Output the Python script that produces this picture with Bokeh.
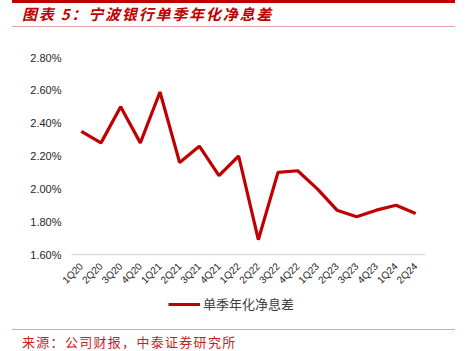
from math import pi
from bokeh.plotting import figure
from bokeh.models import (Range1d, FixedTicker, PrintfTickFormatter, Legend, LegendItem, Div)
from bokeh.layouts import column
from bokeh.embed import file_html
from bokeh.resources import INLINE

quarters = ["1Q20", "2Q20", "3Q20", "4Q20", "1Q21", "2Q21", "3Q21", "4Q21", "1Q22",
            "2Q22", "3Q22", "4Q22", "1Q23", "2Q23", "3Q23", "4Q23", "1Q24", "2Q24"]
nim = [2.35, 2.28, 2.50, 2.28, 2.59, 2.16, 2.26, 2.08, 2.20,
       1.69, 2.10, 2.11, 2.00, 1.87, 1.83, 1.87, 1.90, 1.85]
y_ticks = [1.6, 1.8, 2.0, 2.2, 2.4, 2.6, 2.8]
series_name = "单季年化净息差"
title_text = "图表 5：宁波银行单季年化净息差"
source_text = "来源：公司财报，中泰证券研究所"

W = 466
TOP_H, FIG_H, LEG_H, BOT_H = 30, 262, 36, 23
LINE_COLOR = "#C00000"

p = figure(width=W, height=FIG_H, x_range=quarters, y_range=Range1d(1.6, 2.8),
           output_backend="svg", toolbar_location=None,
           min_border_left=71, min_border_right=41,
           min_border_top=27, min_border_bottom=34)
p.x_range.range_padding = 0
p.outline_line_color = None
p.xgrid.visible = False
p.ygrid.visible = False

p.line(quarters, nim, line_color=LINE_COLOR, line_width=3.2)

p.yaxis.ticker = FixedTicker(ticks=y_ticks)
p.yaxis.formatter = PrintfTickFormatter(format="%.2f%%")
p.yaxis.axis_line_color = None
p.yaxis.major_tick_line_color = None
p.yaxis.minor_tick_line_color = None
p.yaxis.major_tick_out = 0
p.yaxis.minor_tick_out = 0
p.yaxis.major_label_text_font = "Liberation Sans"
p.yaxis.major_label_text_font_size = "11px"
p.yaxis.major_label_text_color = "#262626"
p.yaxis.major_label_standoff = 10

p.xaxis.axis_line_color = "#D9D9D9"
p.xaxis.axis_line_width = 1.5
p.xaxis.major_tick_line_color = None
p.xaxis.minor_tick_line_color = None
p.xaxis.major_label_orientation = pi / 4
p.xaxis.major_label_text_font = "Liberation Sans"
p.xaxis.major_label_text_font_size = "10px"
p.xaxis.major_label_text_color = "#262626"
p.xaxis.major_label_standoff = 4

# legend strip (separate, frameless figure); its sample line lies outside its ranges
pl = figure(width=W - 34, height=LEG_H, output_backend="svg", toolbar_location=None,
            x_axis_location=None, y_axis_location=None,
            min_border=0, x_range=Range1d(0, 1), y_range=Range1d(0, 1))
pl.outline_line_color = None
pl.grid.visible = False
lr = pl.line(x=[-5, -4], y=[-5, -5], line_color=LINE_COLOR, line_width=3.2)
legend = Legend(items=[LegendItem(label=series_name, renderers=[lr])],
                location="top_center", orientation="horizontal",
                border_line_color=None, background_fill_alpha=0,
                padding=0, margin=2, glyph_width=32, glyph_height=14,
                label_standoff=3, label_text_font="Noto Sans CJK SC",
                label_text_font_size="13px", label_text_color="#404040")
pl.add_layout(legend)

top_html = (
    '<div style="position:relative;width:466px;height:30px;">'
    '<div style="position:absolute;left:12px;top:0px;width:443px;height:2.5px;background:#C00000;"></div>'
    '<div style="position:absolute;left:22px;top:3px;height:22px;line-height:22px;white-space:nowrap;'
    'letter-spacing:1.8px;'
    'font-family:\'Noto Sans CJK SC\';font-size:15px;font-weight:bold;font-style:italic;color:#C00000;">'
    + title_text + '</div>'
    '<div style="position:absolute;left:12px;top:26px;width:443px;height:1.3px;background:#E8A3A3;"></div>'
    '</div>'
)
bot_html = (
    '<div style="position:relative;width:466px;height:23px;">'
    '<div style="position:absolute;left:12px;top:1px;width:443px;height:1.3px;background:#E8A3A3;"></div>'
    '<div style="position:absolute;left:22px;top:5px;height:18px;line-height:18px;white-space:nowrap;'
    'letter-spacing:1.3px;'
    'font-family:\'Noto Sans CJK SC\';font-size:13px;color:#C81E1E;">'
    + source_text + '</div>'
    '</div>'
)
top = Div(text=top_html, width=W, height=TOP_H, margin=0)
bot = Div(text=bot_html, width=W, height=BOT_H, margin=0)

layout = column(top, p, pl, bot, spacing=0)
open("out.html", "w").write(file_html(layout, INLINE))
